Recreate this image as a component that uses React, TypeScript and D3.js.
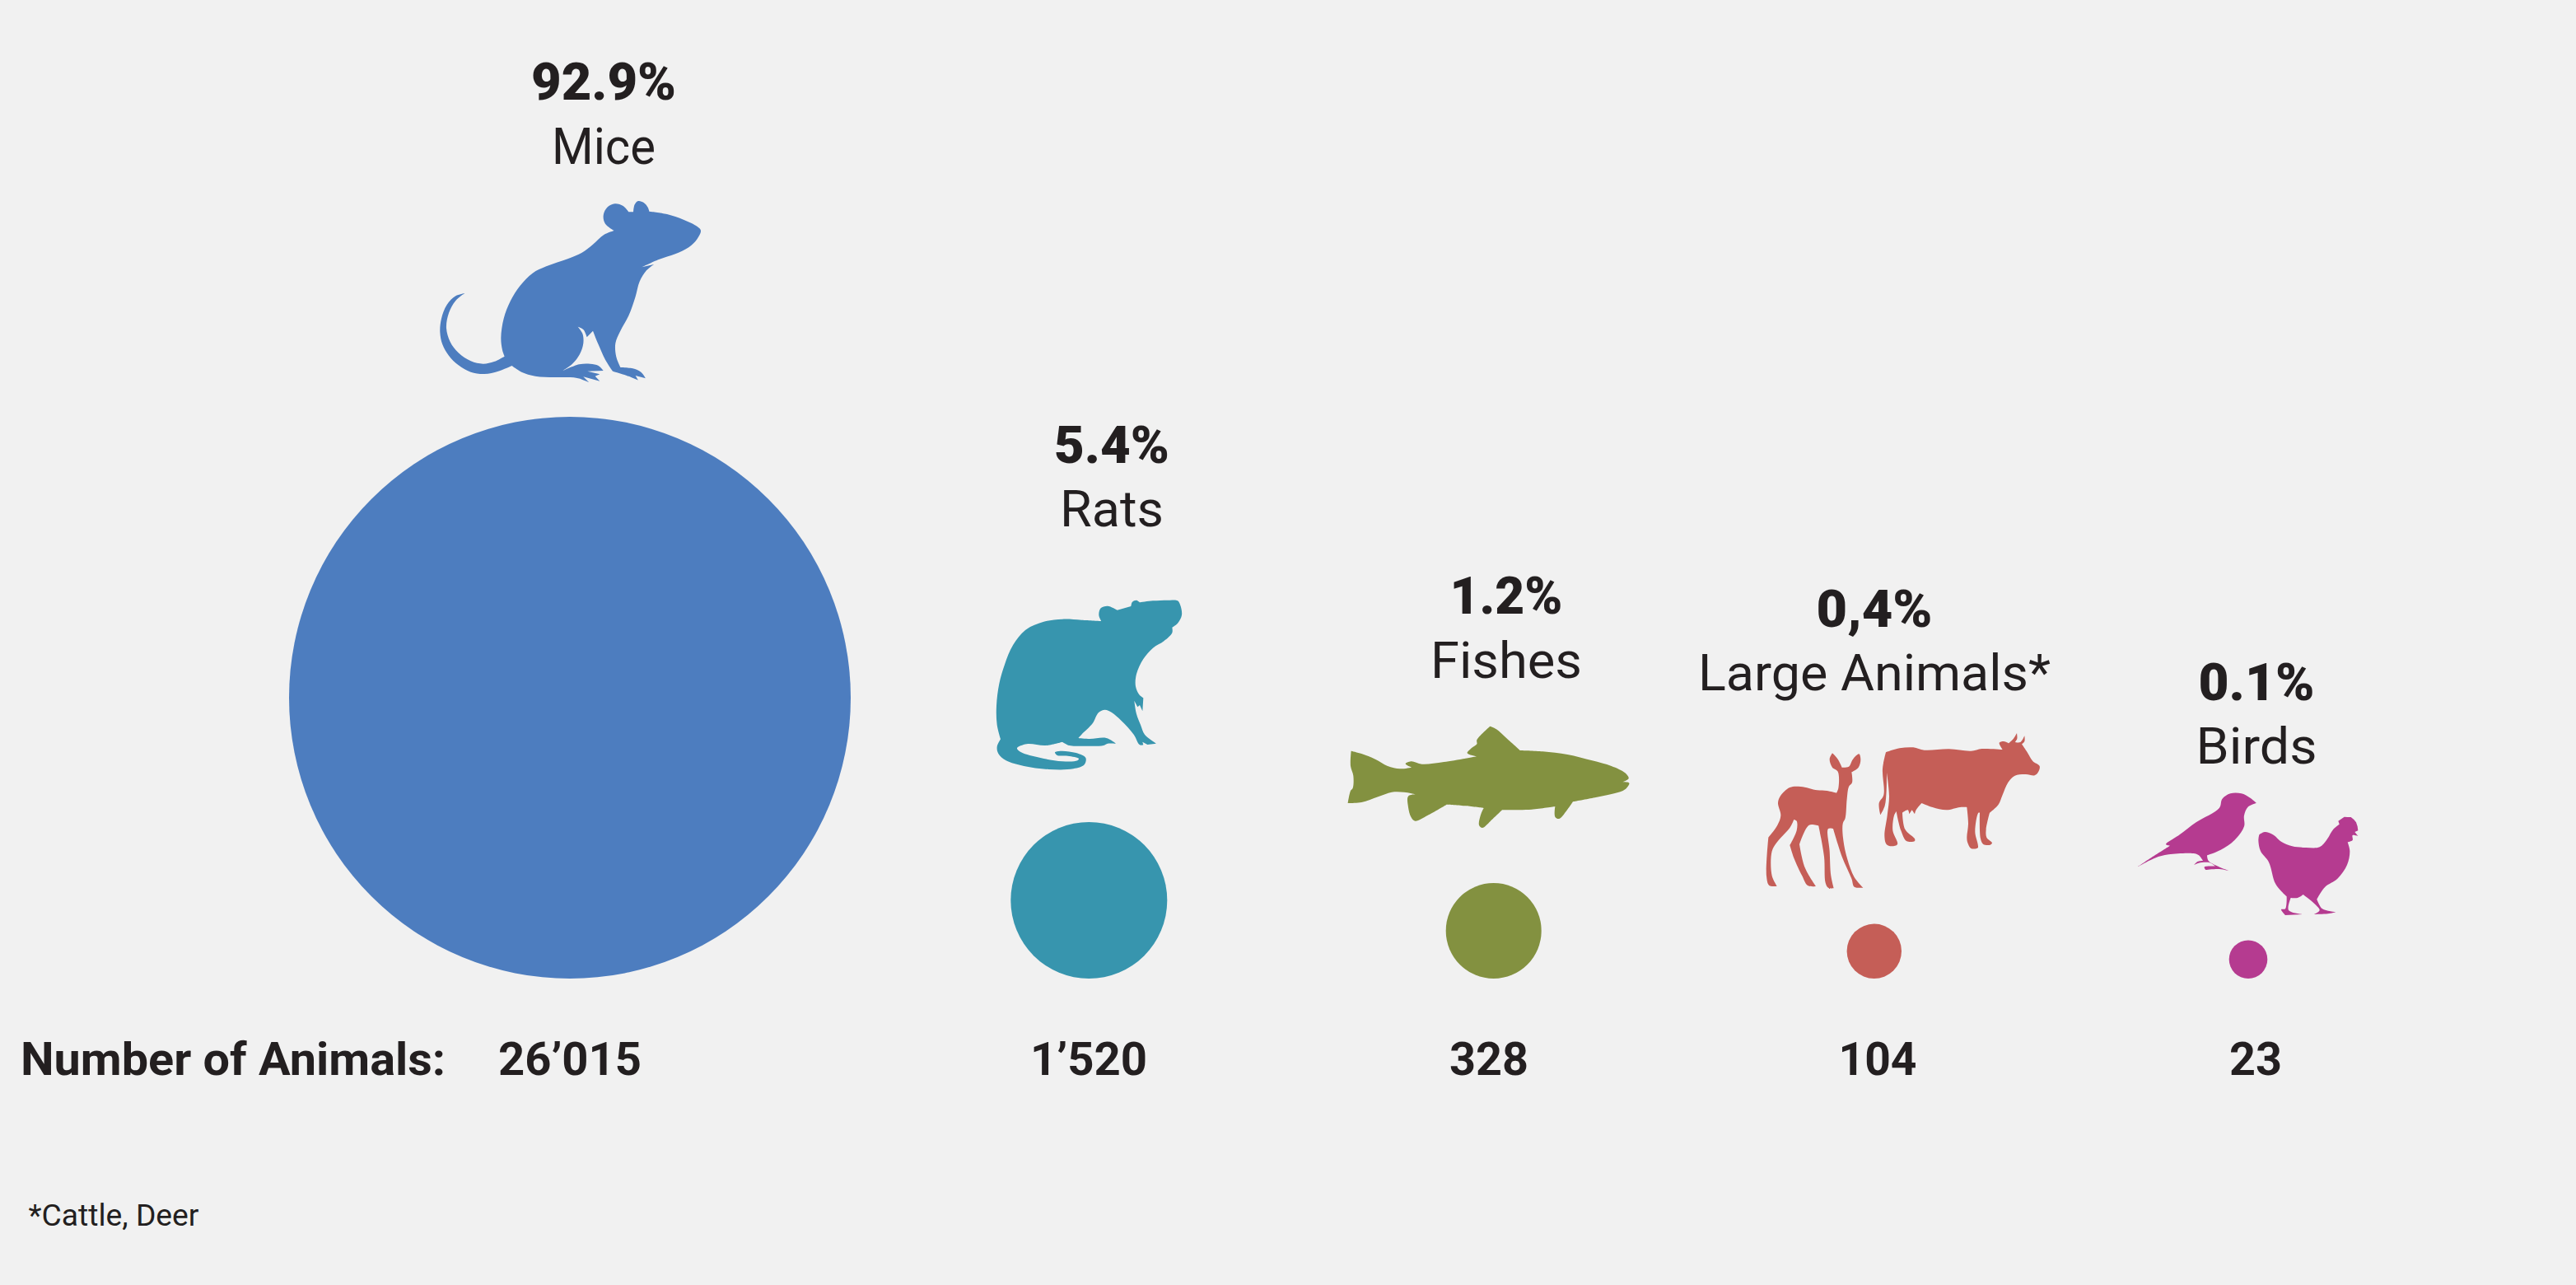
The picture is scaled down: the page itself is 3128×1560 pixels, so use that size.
import React from "react"
import * as d3 from "d3"

const categories = ["Mice", "Rats", "Fishes", "Large Animals*", "Birds"]
const counts = [26015, 1520, 328, 104, 23]
const shareLabels = ["92.9%", "5.4%", "1.2%", "0,4%", "0.1%"]
const colors = ["#4d7dbf", "#3795ae", "#839140", "#c55e57", "#b53b90"]

const WIDTH = 3128
const HEIGHT = 1560
const INK = "#231f20"
const FONT = "Roboto, sans-serif"
const CIRCLE_BASE = 1188

// the circles in the picture are not strictly area scaled, so the radius scale is calibrated piecewise
const radius = d3
  .scaleSqrt()
  .domain([23, 104, 328, 1520, 26015])
  .range([23.3, 33.2, 58, 95, 341])

const color = d3.scaleOrdinal<string, string>().domain(categories).range(colors)
const circleX = d3.scaleOrdinal<string, number>().domain(categories).range([692, 1322.3, 1813.7, 2275.8, 2730])
const labelX = d3.scaleOrdinal<string, number>().domain(categories).range([733, 1350, 1829, 2276, 2740])
const countX = d3.scaleOrdinal<string, number>().domain(categories).range([692, 1322, 1808, 2280, 2739])
const shareY = d3.scaleOrdinal<string, number>().domain(categories).range([121, 562, 745, 761, 850])
const nameY = d3.scaleOrdinal<string, number>().domain(categories).range([199, 639, 823, 838, 927])
const shareW = d3.scaleOrdinal<string, number>().domain(categories).range([176, 140, 137, 141, 141])
const nameW = d3.scaleOrdinal<string, number>().domain(categories).range([126, 126, 184, 428, 147])
const countW = d3.scaleOrdinal<string, number>().domain(categories).range([174, 142, 96, 95, 64])

const formatCount = d3.formatLocale({
  decimal: ".",
  thousands: "’",
  grouping: [3],
  currency: ["", ""],
}).format(",")

// silhouettes at 3x, "|" marks a sharp corner
const mouse = `193,948 160,958 128,990 108,1040 103,1090 112,1135 135,1175 170,1210 215,1235 265,1242 315,1232 365,1212 | 400,1235 450,1250 520,1254 590,1255 620,1262 645,1272 | 625,1252 | 685,1268 | 668,1250 | 685,1243 | 640,1232 | 698,1230 | 680,1212 650,1205 610,1207 545,1233 | 585,1205 612,1170 625,1130 622,1095 605,1070 | 625,1080 638,1108 | 660,1085 | 680,1135 705,1190 732,1232 | 775,1245 825,1265 | 815,1248 | 852,1258 | 835,1235 805,1222 760,1218 | 745,1180 742,1130 760,1085 790,1030 815,960 830,905 855,865 882,843 | 838,853 | 900,825 960,805 1010,780 1040,750 1053,720 1040,705 990,680 930,660 865,650 | 860,635 845,618 825,612 812,625 807,652 | 790,652 | 770,630 740,622 712,635 698,665 705,695 737,720 | 700,735 660,770 620,800 570,822 490,850 440,875 395,920 360,975 335,1040 325,1110 330,1155 338,1178 | 300,1197 260,1205 215,1195 170,1165 140,1125 126,1075 135,1020 160,975 193,948`
const rat = `105,1222 92,1170 90,1100 100,1020 120,950 150,880 195,825 260,795 330,785 400,788 472,792 | 463,770 470,745 495,737 530,752 | 580,738 | 585,722 600,716 612,724 | 660,718 720,716 750,718 760,735 765,770 750,800 730,815 | 730,835 700,865 660,890 625,930 600,985 597,1030 610,1060 625,1072 | 622,1120 | 612,1098 | 604,1105 | 592,1082 | 600,1130 615,1170 630,1205 672,1238 | 640,1242 | 622,1232 | 625,1243 | 612,1243 590,1205 545,1155 510,1125 485,1115 462,1125 440,1165 400,1205 388,1218 | 430,1221 490,1218 525,1238 | 495,1238 480,1245 400,1247 355,1245 330,1232 | 270,1245 200,1240 165,1255 180,1270 250,1290 330,1303 385,1300 390,1293 350,1283 310,1280 303,1270 325,1265 380,1272 415,1290 410,1315 370,1330 280,1332 190,1320 125,1300 97,1275 92,1250 105,1222`
const fish = `62,695 100,705 150,725 195,750 240,760 282,755 | 260,742 280,733 320,743 400,735 520,715 | 485,703 500,685 520,670 520,655 568,605 | 590,615 630,650 678,693 | 760,697 850,708 940,730 1010,750 1060,775 1073,795 1050,808 | 1075,812 1060,835 1020,850 950,865 870,880 | 845,915 820,942 805,935 805,897 | 720,908 612,910 | 570,950 540,975 528,965 535,925 545,903 | 480,895 410,890 | 340,930 295,950 280,935 270,900 270,860 298,853 | 255,845 210,845 160,862 100,882 50,885 | 60,840 68,830 70,785 60,750 62,695`
const deer = `525,643 545,665 560,695 | 585,692 600,665 622,646 628,665 620,695 595,712 | 597,750 585,765 578,810 572,880 563,900 565,960 580,1030 605,1095 637,1133 | 605,1130 595,1100 560,1020 528,918 | 510,918 515,1000 520,1090 530,1135 | 510,1133 500,1115 495,1020 475,908 | 440,905 405,975 | 425,1060 465,1128 | 435,1125 415,1090 385,1025 370,978 | 395,925 395,890 385,885 | 370,915 325,965 305,1000 305,1090 323,1127 | 295,1125 285,1090 292,950 | 325,905 337,870 327,825 335,800 370,768 410,765 470,778 505,780 540,788 | 547,770 545,710 525,695 515,665 525,643`
const cow = `720,640 770,625 820,622 860,632 950,628 1030,635 1070,627 1145,630 | 1133,605 1150,600 1167,607 | 1185,590 1197,570 | 1198,590 1190,603 | 1210,603 1225,580 | 1225,600 1215,610 | 1235,640 1255,672 1280,690 1275,712 1262,724 1230,720 1190,725 1165,750 1145,795 1130,830 1098,860 | 1085,920 1087,950 1107,970 1100,977 1075,975 1065,955 1062,860 | 1057,860 1045,930 1055,975 1055,988 1030,990 1018,970 1015,950 1020,900 1015,840 | 990,840 940,850 890,840 850,825 | 830,850 825,865 | 815,850 | 805,865 | 800,850 780,860 | 790,920 825,955 825,963 795,963 775,925 758,855 | 750,870 745,925 762,975 740,982 722,975 715,945 725,870 732,800 723,715 | 722,780 716,835 700,868 | 695,825 712,795 708,700 720,640`
const bird = `47,787 110,745 165,710 | 150,705 200,670 260,625 345,572 355,540 385,520 425,520 455,535 480,555 | 450,568 435,600 435,640 400,690 350,725 300,745 | 305,765 340,785 385,803 | 345,795 295,798 | 290,788 330,785 | 310,772 270,773 253,780 | 265,768 285,765 | 270,745 250,738 160,742 110,755 47,787`
const hen = `490,670 510,660 540,670 570,695 610,712 660,717 710,715 735,690 760,650 782,632 | 778,620 | 790,612 | 800,605 | 812,606 | 824,606 | 835,615 | 843,625 | 848,640 | 850,655 | 838,660 | 850,675 | 830,672 830,690 812,697 | 820,730 810,780 775,830 730,860 700,905 | 720,940 770,952 | 740,958 690,960 | 710,945 690,920 650,888 | 630,900 605,900 | 597,945 650,960 | 585,963 | 570,942 585,940 590,895 | 550,850 525,770 495,730 487,690 490,670`

const silhouettes = [
  { category: "Mice", outline: mouse, dx: 500, dy: 40 },
  { category: "Rats", outline: rat, dx: 1180, dy: 490 },
  { category: "Fishes", outline: fish, dx: 1620, dy: 680 },
  { category: "Large Animals*", outline: deer, dx: 2050, dy: 700 },
  { category: "Large Animals*", outline: cow, dx: 2050, dy: 700 },
  { category: "Birds", outline: bird, dx: 2580, dy: 790 },
  { category: "Birds", outline: hen, dx: 2580, dy: 790 },
]

const smooth = d3.line().curve(d3.curveCatmullRom.alpha(0.5))

const outlinePath = (outline: string) => {
  let last: [number, number] | null = null
  const parts = outline.split("|").map((segment) => {
    const pts = segment
      .trim()
      .split(/\s+/)
      .map((p) => p.split(",").map(Number) as [number, number])
    const all = last ? [last, ...pts] : pts
    last = pts[pts.length - 1]
    return smooth(all) as string
  })
  return parts.map((d, i) => (i === 0 ? d : d.replace(/^M/, "L"))).join("") + "Z"
}

const Label = ({ x, y, size, weight, width, children }: any) => (
  <text
    x={x}
    y={y}
    fontFamily={FONT}
    fontSize={size}
    fontWeight={weight}
    fill={INK}
    textAnchor="middle"
    textLength={width}
    lengthAdjust="spacingAndGlyphs"
  >
    {children}
  </text>
)

export default function App() {
  return (
    <svg
      width={WIDTH}
      height={HEIGHT}
      viewBox={`0 0 ${WIDTH} ${HEIGHT}`}
      style={{ position: "absolute", left: 0, top: 0, background: "#f1f1f1" }}
    >
      {silhouettes.map((s, i) => (
        <path
          key={i}
          d={outlinePath(s.outline)}
          fill={color(s.category)}
          transform={`translate(${s.dx},${s.dy}) scale(${1 / 3})`}
        />
      ))}

      {categories.map((c, i) => (
        <g key={c}>
          <circle cx={circleX(c)} cy={CIRCLE_BASE - radius(counts[i])} r={radius(counts[i])} fill={color(c)} />
          <Label x={labelX(c)} y={shareY(c)} size={63} weight={900} width={shareW(c)}>
            {shareLabels[i]}
          </Label>
          <Label x={labelX(c)} y={nameY(c)} size={62} weight={400} width={nameW(c)}>
            {c}
          </Label>
          <Label x={countX(c)} y={1305} size={56} weight={700} width={countW(c)}>
            {formatCount(counts[i])}
          </Label>
        </g>
      ))}

      <Label x={283} y={1305} size={56} weight={700} width={516}>
        Number of Animals:
      </Label>
      <Label x={138} y={1488} size={36} weight={400} width={207}>
        *Cattle, Deer
      </Label>
    </svg>
  )
}
